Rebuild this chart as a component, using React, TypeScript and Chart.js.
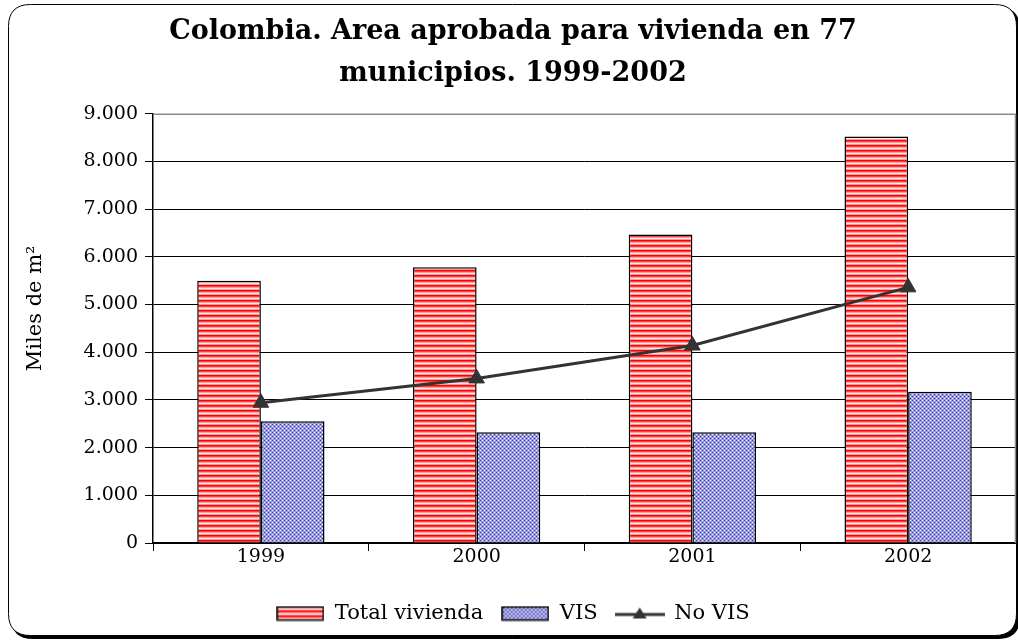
import React, { useEffect, useRef } from "react";
import { Chart, registerables } from "chart.js";

Chart.register(...registerables);

const categories = ["1999", "2000", "2001", "2002"];
const totalVivienda = [5500, 5780, 6470, 8520];
const vis = [2550, 2320, 2320, 3170];
const noVis = [2940, 3450, 4140, 5360];
const titleLines = ["Colombia. Area aprobada para vivienda en 77", "municipios. 1999-2002"];
const seriesNames = ["Total vivienda", "VIS", "No VIS"];
const yAxisTitle = "Miles de m²";

const FONT = "'DejaVu Serif', serif";

function makeTile(w: number, h: number, draw: (c: CanvasRenderingContext2D) => void) {
  const cv = document.createElement("canvas");
  cv.width = w;
  cv.height = h;
  const c = cv.getContext("2d")!;
  draw(c);
  return cv;
}

function redTile() {
  return makeTile(5, 5, (c) => {
    const rows = ["#ff0000", "#ff4040", "#ff9c9c", "#ffe8e8", "#ff9c9c"];
    rows.forEach((col, i) => {
      c.fillStyle = col;
      c.fillRect(0, i, 5, 1);
    });
  });
}

function blueTile() {
  return makeTile(4, 4, (c) => {
    c.fillStyle = "#9a9ade";
    c.fillRect(0, 0, 4, 4);
    c.fillStyle = "#3a3aa8";
    c.fillRect(0, 0, 1, 1);
    c.fillRect(2, 2, 1, 1);
    c.fillStyle = "#f4f4ff";
    c.fillRect(2, 0, 1, 1);
    c.fillRect(0, 2, 1, 1);
  });
}

function legendBox(pattern: CanvasPattern) {
  return makeTile(48, 16, (c) => {
    c.fillStyle = pattern;
    c.fillRect(1, 1, 46, 14);
    c.strokeStyle = "#000";
    c.lineWidth = 1.5;
    c.strokeRect(1, 1.5, 46, 13);
  });
}

function legendLine() {
  return makeTile(50, 16, (c) => {
    c.strokeStyle = "#333";
    c.lineWidth = 3;
    c.beginPath();
    c.moveTo(0, 9);
    c.lineTo(50, 9);
    c.stroke();
    c.fillStyle = "#333";
    c.beginPath();
    c.moveTo(25, 2);
    c.lineTo(32, 13);
    c.lineTo(18, 13);
    c.closePath();
    c.fill();
  });
}

function fmt(v: number) {
  const s = Math.round(v).toString();
  return s.replace(/\B(?=(\d{3})+(?!\d))/g, ".");
}

const framePlugin = {
  id: "frame",
  beforeDraw(chart: any) {
    const ctx = chart.ctx as CanvasRenderingContext2D;
    const rr = (x: number, y: number, w: number, h: number, r: number) => {
      ctx.beginPath();
      ctx.moveTo(x + r, y);
      ctx.lineTo(x + w - r, y);
      ctx.quadraticCurveTo(x + w, y, x + w, y + r);
      ctx.lineTo(x + w, y + h - r);
      ctx.quadraticCurveTo(x + w, y + h, x + w - r, y + h);
      ctx.lineTo(x + r, y + h);
      ctx.quadraticCurveTo(x, y + h, x, y + h - r);
      ctx.lineTo(x, y + r);
      ctx.quadraticCurveTo(x, y, x + r, y);
      ctx.closePath();
    };
    ctx.save();
    ctx.fillStyle = "#fff";
    ctx.fillRect(0, 0, chart.width, chart.height);
    ctx.fillStyle = "#000";
    rr(11, 7, 1009, 632, 22);
    ctx.fill();
    ctx.fillStyle = "#fff";
    rr(8.5, 4.5, 1008, 631, 22);
    ctx.fill();
    ctx.strokeStyle = "#000";
    ctx.lineWidth = 1;
    ctx.stroke();
    ctx.restore();
  },
  beforeDatasetsDraw(chart: any) {
    const { ctx, chartArea } = chart;
    ctx.save();
    ctx.strokeStyle = "#8c8c8c";
    ctx.lineWidth = 1.5;
    ctx.beginPath();
    ctx.moveTo(chartArea.left, chartArea.top + 0.5);
    ctx.lineTo(chartArea.right - 0.5, chartArea.top + 0.5);
    ctx.lineTo(chartArea.right - 0.5, chartArea.bottom);
    ctx.stroke();
    ctx.restore();
  },
};

export default function App() {
  const ref = useRef<HTMLCanvasElement>(null);
  useEffect(() => {
    const canvas = ref.current!;
    const tmp = document.createElement("canvas").getContext("2d")!;
    const redPat = tmp.createPattern(redTile(), "repeat")!;
    const bluePat = tmp.createPattern(blueTile(), "repeat")!;
    const legendImgs = [legendBox(redPat), legendBox(bluePat), legendLine()];

    Chart.defaults.color = "#000";
    const chart = new Chart(canvas, {
      type: "bar",
      data: {
        labels: categories,
        datasets: [
          {
            type: "bar",
            label: seriesNames[0],
            data: totalVivienda,
            backgroundColor: redPat,
            borderColor: "#000",
            borderWidth: 1.5,
            categoryPercentage: 0.59,
            barPercentage: 1,
            order: 2,
          },
          {
            type: "bar",
            label: seriesNames[1],
            data: vis,
            backgroundColor: bluePat,
            borderColor: "#000",
            borderWidth: 1.5,
            categoryPercentage: 0.59,
            barPercentage: 1,
            order: 2,
          },
          {
            type: "line",
            label: seriesNames[2],
            data: noVis,
            borderColor: "#333",
            backgroundColor: "#333",
            borderWidth: 3,
            pointStyle: "triangle",
            pointRadius: 9,
            pointBackgroundColor: "#333",
            pointBorderColor: "#333",
            pointBorderWidth: 1,
            tension: 0,
            order: 0,
          },
        ] as any,
      },
      options: {
        responsive: false,
        animation: false,
        events: [],
        layout: { autoPadding: false, padding: { left: 10, right: 2, top: 4, bottom: 9 } },
        plugins: {
          tooltip: { enabled: false },
          title: {
            display: true,
            text: titleLines,
            color: "#000",
            font: { family: FONT, size: 27, weight: "bold", lineHeight: 1.55 },
            padding: { top: 7, bottom: 19 },
          },
          legend: {
            position: "bottom",
            labels: {
              usePointStyle: true,
              pointStyleWidth: 48,
              boxHeight: 16,
              padding: 18,
              color: "#000",
              font: { family: FONT, size: 21 },
              sort: (a: any, b: any) => a.datasetIndex - b.datasetIndex,
              generateLabels: (ch: any) => {
                const items = Chart.defaults.plugins.legend.labels.generateLabels(ch);
                return items.map((it: any) => ({
                  ...it,
                  pointStyle: legendImgs[it.datasetIndex],
                  lineWidth: 0,
                }));
              },
            },
          },
        },
        scales: {
          x: {
            offset: true,
            afterFit: (s: any) => {
              s.height = 42;
              s.paddingLeft = 0;
              s.paddingRight = 0;
            },
            grid: {
              offset: true,
              drawOnChartArea: false,
              drawTicks: true,
              tickLength: 8,
              color: "#000",
            },
            border: { color: "#000", width: 1.5 },
            ticks: { font: { family: FONT, size: 19 }, color: "#000", padding: -5 },
          },
          y: {
            min: 0,
            max: 9000,
            afterFit: (s: any) => {
              s.width = 143;
            },
            title: {
              display: true,
              text: "      " + yAxisTitle,
              font: { family: FONT, size: 21 },
              color: "#000",
              padding: { top: 13, bottom: 0 },
            },
            grid: {
              color: (c: any) => (c.tick && c.tick.value === 9000 ? "rgba(0,0,0,0)" : "#000"),
              lineWidth: 1,
              tickLength: 8,
              tickColor: "#000",
            },
            border: { color: "#000", width: 1.5 },
            ticks: {
              stepSize: 1000,
              font: { family: FONT, size: 19 },
              color: "#000",
              padding: 7,
              callback: (v: any) => fmt(Number(v)),
            },
          },
        },
      },
      plugins: [framePlugin],
    } as any);
    return () => chart.destroy();
  }, []);
  return (
    <div style={{ position: "fixed", left: 0, top: 0, width: 1018, height: 643 }}>
      <canvas ref={ref} width={1018} height={643} style={{ display: "block" }} />
    </div>
  );
}
